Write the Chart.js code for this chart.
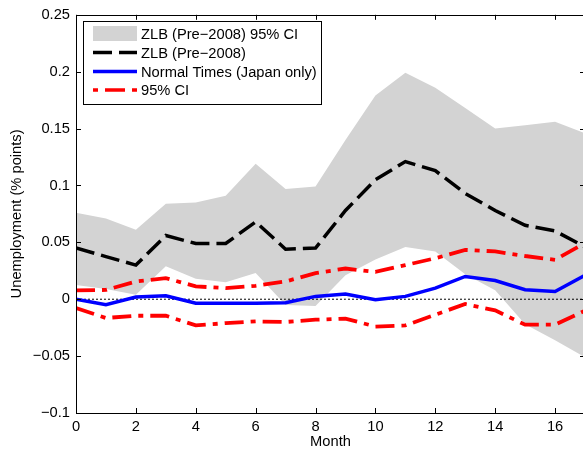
<!DOCTYPE html>
<html>
<head>
<meta charset="utf-8">
<script src="https://cdn.jsdelivr.net/npm/chart.js@4"></script>
<style>
  html, body { margin: 0; padding: 0; background: #fff; overflow: hidden; }
  canvas { display: block; }
</style>
</head>
<body>
<canvas id="chart-irf" width="590" height="451"></canvas>
<script>
// data
const months = [0, 1, 2, 3, 4, 5, 6, 7, 8, 9, 10, 11, 12, 13, 14, 15, 16, 17];
const zlbUpper = [0.076, 0.071, 0.061, 0.084, 0.085, 0.091, 0.119, 0.097, 0.099, 0.140, 0.179, 0.199, 0.186, 0.168, 0.150, 0.153, 0.156, 0.146];
const zlbLower = [0.0125, 0.009, 0.004, 0.029, 0.018, 0.015, 0.023, -0.005, -0.006, 0.021, 0.035, 0.046, 0.042, 0.022, 0.008, -0.022, -0.036, -0.051];
const zlbPoint = [0.045, 0.0375, 0.030, 0.056, 0.049, 0.049, 0.068, 0.044, 0.045, 0.078, 0.105, 0.121, 0.113, 0.093, 0.078, 0.065, 0.060, 0.046];
const normal = [0.0, -0.0048, 0.002, 0.003, -0.0035, -0.0035, -0.0035, -0.003, 0.0025, 0.0045, -0.0005, 0.0025, 0.0098, 0.020, 0.0165, 0.0083, 0.0068, 0.021];
const normalUpper = [0.0077, 0.0082, 0.0156, 0.0186, 0.0113, 0.0098, 0.0118, 0.0156, 0.023, 0.027, 0.024, 0.030, 0.036, 0.0434, 0.042, 0.038, 0.0346, 0.0495];
const normalLower = [-0.0077, -0.0165, -0.0145, -0.0145, -0.023, -0.021, -0.0195, -0.020, -0.018, -0.017, -0.024, -0.023, -0.0136, -0.0042, -0.0098, -0.0224, -0.0224, -0.010];
const xTicks = [0, 2, 4, 6, 8, 10, 12, 14, 16];
const yTicks = [-0.1, -0.05, 0, 0.05, 0.1, 0.15, 0.2, 0.25];
const legendLabels = ['ZLB (Pre\u22122008) 95% CI', 'ZLB (Pre\u22122008)', 'Normal Times (Japan only)', '95% CI'];

const FONT = '"Liberation Sans", Arial, Helvetica, sans-serif';
const FSIZE = 14.7;
const GREY = 'rgb(211,211,211)';
const DASH = [19, 7];
const DASHDOT = [19, 7, 5, 7];

const pts = arr => months.map((m, i) => ({ x: m, y: arr[i] }));

function fmtY(v) {
    const r = Math.round(v * 100) / 100;
    if (r === 0) return '0';
    return r < 0 ? '\u2212' + String(-r) : String(r);
}

// box + inward ticks on all four sides
const axesBox = {
    id: 'axesBox',
    afterDatasetsDraw(chart) {
        const { ctx, chartArea: a, scales } = chart;
        const tl = 5;
        ctx.save();
        ctx.strokeStyle = '#000';
        ctx.lineWidth = 1;
        ctx.beginPath();
        xTicks.forEach(t => {
            const px = Math.round(scales.x.getPixelForValue(t)) + 0.5;
            ctx.moveTo(px, a.bottom); ctx.lineTo(px, a.bottom - tl);
            ctx.moveTo(px, a.top); ctx.lineTo(px, a.top + tl);
        });
        yTicks.forEach(t => {
            const py = Math.round(scales.y.getPixelForValue(t)) + 0.5;
            ctx.moveTo(a.left, py); ctx.lineTo(a.left + tl, py);
            ctx.moveTo(a.right, py); ctx.lineTo(a.right - tl, py);
        });
        ctx.stroke();
        ctx.strokeRect(Math.round(a.left) + 0.5, Math.round(a.top) + 0.5,
            Math.round(a.right - a.left), Math.round(a.bottom - a.top));
        ctx.restore();
    }
};

// legend box drawn inside the plot, top left
const insideLegend = {
    id: 'insideLegend',
    afterDraw(chart) {
        const ctx = chart.ctx;
        const x0 = 83.5, y0 = 21.5, w = 238, h = 83;
        const sx0 = 93, sx1 = 137, tx = 141;
        const rows = [33.5, 52.5, 71.5, 90];
        ctx.save();
        ctx.fillStyle = '#fff';
        ctx.fillRect(x0, y0, w, h);
        ctx.strokeStyle = '#000';
        ctx.lineWidth = 1;
        ctx.strokeRect(x0, y0, w, h);

        ctx.fillStyle = GREY;
        ctx.fillRect(sx0, 26, sx1 - sx0, 15);

        ctx.lineCap = 'butt';
        ctx.lineWidth = 3.5;
        ctx.strokeStyle = '#000';
        ctx.setLineDash(DASH);
        ctx.beginPath(); ctx.moveTo(sx0, rows[1]); ctx.lineTo(sx1, rows[1]); ctx.stroke();

        ctx.strokeStyle = '#0000ff';
        ctx.setLineDash([]);
        ctx.beginPath(); ctx.moveTo(sx0, rows[2]); ctx.lineTo(sx1, rows[2]); ctx.stroke();

        ctx.strokeStyle = '#ff0000';
        ctx.setLineDash([5, 7, 20, 7]);
        ctx.beginPath(); ctx.moveTo(sx0, rows[3]); ctx.lineTo(sx1, rows[3]); ctx.stroke();
        ctx.setLineDash([]);

        ctx.fillStyle = '#000';
        ctx.font = FSIZE + 'px ' + FONT;
        ctx.textBaseline = 'middle';
        ctx.textAlign = 'left';
        legendLabels.forEach((t, i) => ctx.fillText(t, tx, rows[i] + 1));
        ctx.restore();
    }
};

const ctx = document.getElementById('chart-irf').getContext('2d');
new Chart(ctx, {
    type: 'line',
    data: {
        datasets: [
            {
                label: legendLabels[0],
                data: pts(zlbUpper),
                borderWidth: 0,
                backgroundColor: GREY,
                fill: '+1',
                order: 6
            },
            {
                label: 'lower',
                data: pts(zlbLower),
                borderWidth: 0,
                fill: false,
                order: 5
            },
            {
                label: 'zero',
                data: months.map(m => ({ x: m, y: 0 })),
                borderColor: '#000',
                borderWidth: 1,
                borderDash: [2, 2],
                fill: false,
                order: 4
            },
            {
                label: legendLabels[1],
                data: pts(zlbPoint),
                borderColor: '#000',
                borderWidth: 3.5,
                borderDash: DASH,
                fill: false,
                order: 3
            },
            {
                label: legendLabels[2],
                data: pts(normal),
                borderColor: '#0000ff',
                borderWidth: 3.5,
                fill: false,
                order: 2
            },
            {
                label: legendLabels[3],
                data: pts(normalUpper),
                borderColor: '#ff0000',
                borderWidth: 3.8,
                borderDash: DASHDOT,
                fill: false,
                order: 1
            },
            {
                label: 'ci lower',
                data: pts(normalLower),
                borderColor: '#ff0000',
                borderWidth: 3.8,
                borderDash: DASHDOT,
                fill: false,
                order: 1
            }
        ]
    },
    options: {
        responsive: false,
        animation: false,
        events: [],
        layout: { padding: { top: 14, right: 5, left: 0, bottom: 0 } },
        elements: {
            point: { radius: 0 },
            line: { tension: 0, borderCapStyle: 'butt', borderJoinStyle: 'miter' }
        },
        plugins: {
            legend: { display: false },
            tooltip: { enabled: false }
        },
        scales: {
            x: {
                type: 'linear',
                min: 0,
                max: 17,
                grid: { display: false, drawTicks: false },
                border: { display: false },
                afterFit: s => { s.height = 38; },
                afterBuildTicks: s => { s.ticks = xTicks.map(v => ({ value: v })); },
                ticks: {
                    color: '#000',
                    padding: 5,
                    maxRotation: 0,
                    autoSkip: false,
                    font: { family: FONT, size: FSIZE },
                    callback: v => String(v)
                },
                title: {
                    display: true,
                    text: 'Month',
                    color: '#000',
                    padding: { top: 0, bottom: 0 },
                    font: { family: FONT, size: FSIZE }
                }
            },
            y: {
                type: 'linear',
                min: -0.1,
                max: 0.25,
                grid: { display: false, drawTicks: false },
                border: { display: false },
                afterFit: s => { s.width = 76; },
                afterBuildTicks: s => { s.ticks = yTicks.map(v => ({ value: v })); },
                ticks: {
                    color: '#000',
                    padding: 6,
                    autoSkip: false,
                    font: { family: FONT, size: FSIZE },
                    callback: v => fmtY(v)
                },
                title: {
                    display: true,
                    text: 'Unemployment (% points)',
                    color: '#000',
                    padding: { top: 8.2, bottom: 0 },
                    font: { family: FONT, size: FSIZE }
                }
            }
        }
    },
    plugins: [axesBox, insideLegend]
});
</script>
</body>
</html>
